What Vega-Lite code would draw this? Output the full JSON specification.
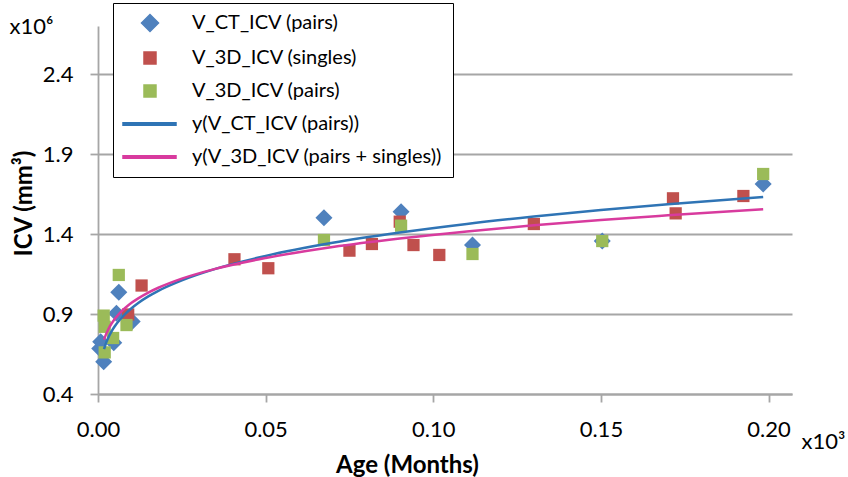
{
  "$schema": "https://vega.github.io/schema/vega-lite/v6.json",
  "width": 694,
  "height": 368,
  "autosize": {"type": "none"},
  "padding": {"left": 98, "top": 26, "right": 56, "bottom": 83},
  "config": {
    "font": "Lato",
    "view": {"stroke": null},
    "axis": {"labelColor": "#000000", "titleColor": "#000000", "labelFont": "Lato", "titleFont": "Lato"}
  },
  "data": {
    "values": [
      {"series": "V_CT_ICV (pairs)", "x": 0.0005, "y": 0.685},
      {"series": "V_CT_ICV (pairs)", "x": 0.0008, "y": 0.727},
      {"series": "V_CT_ICV (pairs)", "x": 0.0017, "y": 0.602},
      {"series": "V_CT_ICV (pairs)", "x": 0.0047, "y": 0.72},
      {"series": "V_CT_ICV (pairs)", "x": 0.0055, "y": 0.905},
      {"series": "V_CT_ICV (pairs)", "x": 0.0102, "y": 0.853},
      {"series": "V_CT_ICV (pairs)", "x": 0.0062, "y": 1.036},
      {"series": "V_CT_ICV (pairs)", "x": 0.0674, "y": 1.502},
      {"series": "V_CT_ICV (pairs)", "x": 0.0904, "y": 1.539},
      {"series": "V_CT_ICV (pairs)", "x": 0.1117, "y": 1.331},
      {"series": "V_CT_ICV (pairs)", "x": 0.1504, "y": 1.356},
      {"series": "V_CT_ICV (pairs)", "x": 0.1984, "y": 1.7125},
      {"series": "V_3D_ICV (singles)", "x": 0.009, "y": 0.897},
      {"series": "V_3D_ICV (singles)", "x": 0.013, "y": 1.078},
      {"series": "V_3D_ICV (singles)", "x": 0.0407, "y": 1.242},
      {"series": "V_3D_ICV (singles)", "x": 0.0508, "y": 1.186},
      {"series": "V_3D_ICV (singles)", "x": 0.075, "y": 1.296},
      {"series": "V_3D_ICV (singles)", "x": 0.0817, "y": 1.3375},
      {"series": "V_3D_ICV (singles)", "x": 0.09, "y": 1.477},
      {"series": "V_3D_ICV (singles)", "x": 0.0941, "y": 1.331},
      {"series": "V_3D_ICV (singles)", "x": 0.1018, "y": 1.269},
      {"series": "V_3D_ICV (singles)", "x": 0.13, "y": 1.4625},
      {"series": "V_3D_ICV (singles)", "x": 0.1715, "y": 1.623},
      {"series": "V_3D_ICV (singles)", "x": 0.1723, "y": 1.529},
      {"series": "V_3D_ICV (singles)", "x": 0.1925, "y": 1.6375},
      {"series": "V_3D_ICV (pairs)", "x": 0.0017, "y": 0.89},
      {"series": "V_3D_ICV (pairs)", "x": 0.002, "y": 0.82},
      {"series": "V_3D_ICV (pairs)", "x": 0.0045, "y": 0.75},
      {"series": "V_3D_ICV (pairs)", "x": 0.002, "y": 0.66},
      {"series": "V_3D_ICV (pairs)", "x": 0.0085, "y": 0.831},
      {"series": "V_3D_ICV (pairs)", "x": 0.0062, "y": 1.144},
      {"series": "V_3D_ICV (pairs)", "x": 0.0674, "y": 1.3625},
      {"series": "V_3D_ICV (pairs)", "x": 0.0904, "y": 1.452},
      {"series": "V_3D_ICV (pairs)", "x": 0.1117, "y": 1.275},
      {"series": "V_3D_ICV (pairs)", "x": 0.1504, "y": 1.356},
      {"series": "V_3D_ICV (pairs)", "x": 0.1984, "y": 1.775},
      {"series": "y(V_CT_ICV (pairs))", "x": 0.0018, "y": 0.681},
      {"series": "y(V_CT_ICV (pairs))", "x": 0.0025, "y": 0.724},
      {"series": "y(V_CT_ICV (pairs))", "x": 0.003, "y": 0.749},
      {"series": "y(V_CT_ICV (pairs))", "x": 0.004, "y": 0.79},
      {"series": "y(V_CT_ICV (pairs))", "x": 0.005, "y": 0.823},
      {"series": "y(V_CT_ICV (pairs))", "x": 0.0065, "y": 0.864},
      {"series": "y(V_CT_ICV (pairs))", "x": 0.008, "y": 0.898},
      {"series": "y(V_CT_ICV (pairs))", "x": 0.01, "y": 0.936},
      {"series": "y(V_CT_ICV (pairs))", "x": 0.012, "y": 0.969},
      {"series": "y(V_CT_ICV (pairs))", "x": 0.015, "y": 1.01},
      {"series": "y(V_CT_ICV (pairs))", "x": 0.018, "y": 1.045},
      {"series": "y(V_CT_ICV (pairs))", "x": 0.025, "y": 1.11},
      {"series": "y(V_CT_ICV (pairs))", "x": 0.035, "y": 1.182},
      {"series": "y(V_CT_ICV (pairs))", "x": 0.05, "y": 1.263},
      {"series": "y(V_CT_ICV (pairs))", "x": 0.07, "y": 1.345},
      {"series": "y(V_CT_ICV (pairs))", "x": 0.09, "y": 1.409},
      {"series": "y(V_CT_ICV (pairs))", "x": 0.11, "y": 1.463},
      {"series": "y(V_CT_ICV (pairs))", "x": 0.13, "y": 1.509},
      {"series": "y(V_CT_ICV (pairs))", "x": 0.15, "y": 1.55},
      {"series": "y(V_CT_ICV (pairs))", "x": 0.17, "y": 1.586},
      {"series": "y(V_CT_ICV (pairs))", "x": 0.1984, "y": 1.632},
      {"series": "y(V_3D_ICV (pairs + singles))", "x": 0.0018, "y": 0.74},
      {"series": "y(V_3D_ICV (pairs + singles))", "x": 0.0025, "y": 0.779},
      {"series": "y(V_3D_ICV (pairs + singles))", "x": 0.003, "y": 0.802},
      {"series": "y(V_3D_ICV (pairs + singles))", "x": 0.004, "y": 0.839},
      {"series": "y(V_3D_ICV (pairs + singles))", "x": 0.005, "y": 0.869},
      {"series": "y(V_3D_ICV (pairs + singles))", "x": 0.0065, "y": 0.906},
      {"series": "y(V_3D_ICV (pairs + singles))", "x": 0.008, "y": 0.936},
      {"series": "y(V_3D_ICV (pairs + singles))", "x": 0.01, "y": 0.97},
      {"series": "y(V_3D_ICV (pairs + singles))", "x": 0.012, "y": 0.998},
      {"series": "y(V_3D_ICV (pairs + singles))", "x": 0.015, "y": 1.034},
      {"series": "y(V_3D_ICV (pairs + singles))", "x": 0.018, "y": 1.064},
      {"series": "y(V_3D_ICV (pairs + singles))", "x": 0.025, "y": 1.121},
      {"series": "y(V_3D_ICV (pairs + singles))", "x": 0.035, "y": 1.182},
      {"series": "y(V_3D_ICV (pairs + singles))", "x": 0.05, "y": 1.25},
      {"series": "y(V_3D_ICV (pairs + singles))", "x": 0.07, "y": 1.319},
      {"series": "y(V_3D_ICV (pairs + singles))", "x": 0.09, "y": 1.372},
      {"series": "y(V_3D_ICV (pairs + singles))", "x": 0.11, "y": 1.416},
      {"series": "y(V_3D_ICV (pairs + singles))", "x": 0.13, "y": 1.454},
      {"series": "y(V_3D_ICV (pairs + singles))", "x": 0.15, "y": 1.488},
      {"series": "y(V_3D_ICV (pairs + singles))", "x": 0.17, "y": 1.517},
      {"series": "y(V_3D_ICV (pairs + singles))", "x": 0.1984, "y": 1.555}
    ]
  },
  "layer": [
    {
      "transform": [{"filter": "datum.series == 'V_CT_ICV (pairs)'"}],
      "mark": {"type": "point", "filled": true, "shape": "diamond", "size": 290, "opacity": 1, "strokeWidth": 0},
      "encoding": {
        "x": {
          "field": "x", "type": "quantitative",
          "scale": {"domain": [0, 0.207], "nice": false, "zero": false},
          "axis": {
            "orient": "bottom",
            "values": [0, 0.05, 0.1, 0.15, 0.2], "format": ".2f",
            "grid": false, "labelFlush": false,
            "domainColor": "#a6a6a6", "domainWidth": 1.8,
            "tickColor": "#a6a6a6", "tickWidth": 1.8, "tickSize": 8,
            "labelFontSize": 22, "labelPadding": 17,
            "title": "Age (Months)", "titleFontSize": 24, "titleFontWeight": "bold",
            "titleX": 309, "titleY": 78, "titleBaseline": "alphabetic", "titleAlign": "center"
          }
        },
        "y": {
          "field": "y", "type": "quantitative",
          "scale": {"domain": [0.4, 2.7], "nice": false, "zero": false},
          "axis": {
            "orient": "left",
            "values": [0.4, 0.9, 1.4, 1.9, 2.4], "format": ".1f",
            "grid": true, "gridColor": "#a6a6a6", "gridWidth": 1.8, "labelFlush": false,
            "domainColor": "#a6a6a6", "domainWidth": 1.8,
            "tickColor": "#a6a6a6", "tickWidth": 1.8, "tickSize": 8,
            "labelFontSize": 22, "labelPadding": 17,
            "title": "ICV (mm³)", "titleFontSize": 24, "titleFontWeight": "bold",
            "titlePadding": 6, "titleY": 177
          }
        },
        "color": {
          "field": "series", "type": "nominal",
          "scale": {
            "domain": ["V_CT_ICV (pairs)", "V_3D_ICV (singles)", "V_3D_ICV (pairs)", "y(V_CT_ICV (pairs))", "y(V_3D_ICV (pairs + singles))"],
            "range": ["#4F81BD", "#C0504D", "#9BBB59", "#2F74B5", "#D83B9E"]
          },
          "legend": {
            "title": null, "orient": "none", "legendX": 15, "legendY": -23,
            "padding": 10, "rowPadding": 13, "symbolSize": 144, "labelOffset": 49,
            "symbolType": {"expr": "datum.value == 'V_CT_ICV (pairs)' ? 'M1.417,0L2.833,-1.417L4.25,0L2.833,1.417Z' : (indexof(datum.value, 'y(') == 0 ? 'M-1.667,-0.22H7.167V0.22H-1.667Z' : 'M1.833,-1H3.833V1H1.833Z')"},
            "labelFontSize": 20, "labelFont": "Lato", "labelColor": "#000000", "labelLimit": 500,
            "strokeColor": "#000000", "fillColor": "#ffffff"
          }
        }
      }
    },
    {
      "transform": [{"filter": "datum.series == 'V_3D_ICV (singles)' || datum.series == 'V_3D_ICV (pairs)'"}],
      "mark": {"type": "point", "filled": true, "shape": "square", "size": 150, "opacity": 1, "strokeWidth": 0},
      "encoding": {
        "x": {"field": "x", "type": "quantitative", "axis": null},
        "y": {"field": "y", "type": "quantitative", "axis": null},
        "color": {"field": "series", "type": "nominal", "legend": null}
      }
    },
    {
      "transform": [{"filter": "datum.series == 'y(V_CT_ICV (pairs))'"}],
      "mark": {"type": "line", "strokeWidth": 2.5, "interpolate": "monotone"},
      "encoding": {
        "x": {"field": "x", "type": "quantitative", "axis": null},
        "y": {"field": "y", "type": "quantitative", "axis": null},
        "color": {"field": "series", "type": "nominal", "legend": null}
      }
    },
    {
      "transform": [{"filter": "datum.series == 'y(V_3D_ICV (pairs + singles))'"}],
      "mark": {"type": "line", "strokeWidth": 2.5, "interpolate": "monotone"},
      "encoding": {
        "x": {
          "field": "x", "type": "quantitative",
          "axis": {
            "orient": "bottom", "labels": false, "ticks": false, "domain": false, "grid": false,
            "title": "x10³", "titleFontSize": 22, "titleFontWeight": "normal",
            "titleX": 725, "titleY": 54, "titleAlign": "center", "titleBaseline": "alphabetic", "titleAngle": 0
          }
        },
        "y": {
          "field": "y", "type": "quantitative",
          "axis": {
            "orient": "left", "labels": false, "ticks": false, "domain": false, "grid": false,
            "title": "x10⁶", "titleFontSize": 22, "titleFontWeight": "normal",
            "titleX": -67, "titleY": 7, "titleAlign": "center", "titleBaseline": "alphabetic", "titleAngle": 0
          }
        },
        "color": {"field": "series", "type": "nominal", "legend": null}
      }
    }
  ],
  "resolve": {"axis": {"x": "independent", "y": "independent"}}
}
